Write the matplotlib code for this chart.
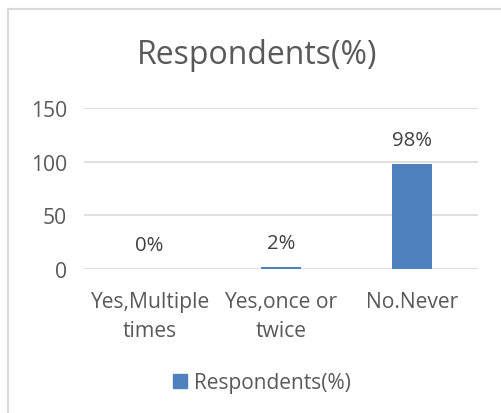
import matplotlib.pyplot as plt
from matplotlib.lines import Line2D
from matplotlib.patches import Patch

categories = ['Yes,Multiple\ntimes', 'Yes,once or\ntwice', 'No.Never']
values = [0, 2, 98]
value_labels = ['0%', '2%', '98%']
yticks = [0, 50, 100, 150]

blue = '#4f81bd'
grey = '#595959'
plt.rcParams['font.family'] = ['Open Sans', 'DejaVu Sans']

fig = plt.figure(figsize=(5.02, 4.14), dpi=100)
ax = fig.add_axes([84/502, 1-270/414, 394/502, 161/414])

x = range(len(categories))
ax.bar(x, values, width=0.305, color=blue, zorder=3)
for i, (v, lab) in enumerate(zip(values, value_labels)):
    ax.text(i, v + 22, lab, ha='center', va='center', fontsize=14.7, color='#404040')

ax.set_xlim(-0.5, 2.5)
ax.set_ylim(0, 150)
ax.set_yticks(yticks)
ax.set_xticks(list(x))
ax.set_xticklabels(categories, fontsize=15.2, color=grey, linespacing=1.5)
ax.tick_params(axis='y', labelsize=15.2, labelcolor=grey, length=0, pad=12)
ax.tick_params(axis='x', length=0, pad=16)
ax.grid(axis='y', color='#d9d9d9', linewidth=1.2, zorder=0)
for s in ax.spines.values():
    s.set_visible(False)

fig.text(257/502, 1-56/414, 'Respondents(%)', ha='center', va='center',
         fontsize=23, color=grey)

fig.legend(handles=[Patch(color=blue, label='Respondents(%)')],
           loc='center', bbox_to_anchor=(262/502, 1-384/414), frameon=False,
           fontsize=15, labelcolor=grey, handlelength=0.65, handleheight=0.65,
           handletextpad=0.35)

# chart frame (left and top edges)
fig.add_artist(Line2D([8/502, 8/502], [0, 1-10/414], color='#d9d9d9', linewidth=1.5))
fig.add_artist(Line2D([8/502, 1], [1-10/414, 1-10/414], color='#d9d9d9', linewidth=1.5))

fig.savefig('out.png', dpi=100)
